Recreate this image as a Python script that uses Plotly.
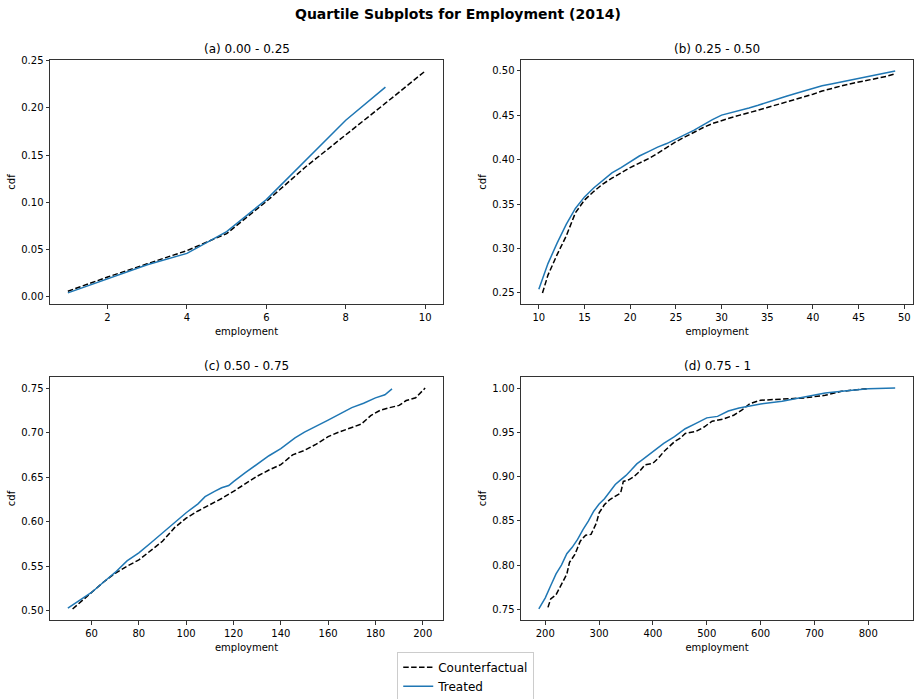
import plotly.graph_objects as go

# ---- data ----
a_treat_x = [1, 2, 3, 4, 5, 6, 7, 8, 9]
a_treat_y = [0.0042, 0.0195, 0.034, 0.046, 0.069, 0.103, 0.145, 0.187, 0.222]
a_cf_x = [1, 2, 3, 4, 5, 6, 7, 8, 9, 10]
a_cf_y = [0.006, 0.021, 0.035, 0.049, 0.067, 0.101, 0.138, 0.171, 0.205, 0.239]

b_treat_x = list(range(10, 50))
b_treat_y = [0.254, 0.283, 0.306, 0.327, 0.345, 0.358, 0.368, 0.377, 0.385, 0.391,
             0.398, 0.404, 0.409, 0.414, 0.418, 0.423, 0.428, 0.433, 0.439, 0.445,
             0.450, 0.4525, 0.455, 0.458, 0.461, 0.4645, 0.468, 0.471, 0.474, 0.477,
             0.480, 0.483, 0.485, 0.487, 0.489, 0.491, 0.493, 0.495, 0.497, 0.4995]
b_cf_x = [10.4] + list(range(11, 50))
b_cf_y = [0.250, 0.270, 0.293, 0.314, 0.340, 0.3545, 0.364, 0.3725, 0.379, 0.385,
          0.391, 0.396, 0.401, 0.407, 0.414, 0.420, 0.4255, 0.431, 0.436, 0.4405,
          0.444, 0.447, 0.450, 0.4525, 0.4555, 0.4585, 0.4615, 0.464, 0.4667, 0.470,
          0.4735, 0.477, 0.480, 0.4825, 0.485, 0.487, 0.489, 0.4915, 0.4935, 0.4965]

c_treat_x = [50, 55, 60, 65, 70, 75, 80, 85, 90, 95, 100, 105, 108, 112, 115, 118,
             120, 125, 130, 135, 140, 143, 146, 150, 155, 160, 165, 170, 175, 180, 184, 187]
c_treat_y = [0.503, 0.512, 0.5205, 0.532, 0.543, 0.556, 0.565, 0.576, 0.5875, 0.599,
             0.610, 0.620, 0.628, 0.634, 0.638, 0.6405, 0.645, 0.655, 0.665, 0.674,
             0.682, 0.688, 0.694, 0.7005, 0.707, 0.714, 0.721, 0.728, 0.733, 0.739,
             0.7425, 0.749]
c_cf_x = [52, 60, 65, 70, 75, 80, 85, 90, 95, 100, 105, 110, 115, 120, 125, 130, 135,
          140, 145, 150, 155, 160, 165, 170, 174, 178, 182, 186, 190, 193, 197, 201]
c_cf_y = [0.502, 0.520, 0.532, 0.542, 0.550, 0.557, 0.567, 0.578, 0.593, 0.604,
          0.612, 0.619, 0.626, 0.634, 0.643, 0.651, 0.658, 0.664, 0.675, 0.680,
          0.687, 0.6955, 0.701, 0.706, 0.7095, 0.719, 0.725, 0.728, 0.7305, 0.736,
          0.739, 0.750]

d_treat_x = [188, 200, 210, 220, 230, 240, 250, 260, 270, 280, 290, 300, 310, 320,
             330, 340, 350, 360, 370, 380, 400, 420, 440, 460, 480, 500, 520, 540,
             560, 580, 600, 640, 680, 720, 760, 800, 850]
d_treat_y = [0.7504, 0.763, 0.7766, 0.790, 0.800, 0.8129, 0.820, 0.829, 0.840, 0.8496,
             0.8608, 0.869, 0.875, 0.883, 0.891, 0.8963, 0.9013, 0.9076, 0.9143, 0.9188,
             0.928, 0.9375, 0.945, 0.954, 0.960, 0.9663, 0.968, 0.974, 0.9775, 0.980,
             0.982, 0.985, 0.990, 0.9944, 0.997, 0.9993, 1.000]
d_cf_x = [205, 210, 220, 230, 240, 245, 255, 265, 275, 285, 295, 300, 310, 320, 330,
          340, 345, 355, 365, 375, 385, 400, 410, 420, 440, 450, 460, 480, 495, 510,
          530, 550, 565, 580, 600, 640, 680, 720, 750, 800]
d_cf_y = [0.7522, 0.7616, 0.7665, 0.778, 0.7897, 0.803, 0.812, 0.827, 0.8338, 0.8346,
          0.8476, 0.859, 0.8683, 0.874, 0.8776, 0.8814, 0.8945, 0.8963, 0.900, 0.9057,
          0.9132, 0.915, 0.9207, 0.928, 0.9394, 0.943, 0.9487, 0.951, 0.956, 0.9626,
          0.9648, 0.9693, 0.975, 0.9824, 0.9862, 0.9873, 0.9888, 0.9918, 0.9963, 0.9993]

panel_titles = ["(a) 0.00 - 0.25", "(b) 0.25 - 0.50", "(c) 0.50 - 0.75", "(d) 0.75 - 1"]
x_ticks = [[2, 4, 6, 8, 10], list(range(10, 55, 5)), list(range(60, 220, 20)),
           list(range(200, 900, 100))]
y_ticks = [[0.0, 0.05, 0.10, 0.15, 0.20, 0.25], [0.25, 0.30, 0.35, 0.40, 0.45, 0.50],
           [0.50, 0.55, 0.60, 0.65, 0.70, 0.75], [0.75, 0.80, 0.85, 0.90, 0.95, 1.00]]

panels = [(a_cf_x, a_cf_y, a_treat_x, a_treat_y), (b_cf_x, b_cf_y, b_treat_x, b_treat_y),
          (c_cf_x, c_cf_y, c_treat_x, c_treat_y), (d_cf_x, d_cf_y, d_treat_x, d_treat_y)]

W, H = 915, 699
# pixel boxes of the four axes (left, right, top, bottom)
boxes = [(50, 443, 60, 304), (521, 913, 60, 304), (50, 443, 377, 620), (521, 913, 377, 620)]

FONT = "DejaVu Sans"
fig = go.Figure()
layout = dict(
    width=W, height=H, margin=dict(l=0, r=0, t=0, b=0, autoexpand=False),
    paper_bgcolor="white", plot_bgcolor="white",
    font=dict(family=FONT, size=10, color="black"),
    showlegend=True,
    legend=dict(x=0.509, y=-0.004, xanchor="center", yanchor="bottom",
                bordercolor="#cccccc", borderwidth=1, bgcolor="white",
                font=dict(size=12, family=FONT), tracegroupgap=0,
                itemwidth=30),
)
annotations = [dict(text="<b>Quartile Subplots for Employment (2014)</b>", x=0.5, y=1 - 14 / H,
                    xref="paper", yref="paper", showarrow=False,
                    font=dict(size=14, family=FONT), xanchor="center", yanchor="middle")]

for i, ((cx, cy, tx, ty), (l, r, t, b)) in enumerate(zip(panels, boxes)):
    n = "" if i == 0 else str(i + 1)
    xa, ya = "x" + n, "y" + n
    allx = cx + tx
    ally = cy + ty
    xmin, xmax = min(allx), max(allx)
    ymin, ymax = min(ally), max(ally)
    xm = (xmax - xmin) * 0.05
    ym = (ymax - ymin) * 0.05
    fig.add_trace(go.Scatter(x=cx, y=cy, mode="lines", name="Counterfactual",
                             line=dict(color="black", width=1.5, dash="5.5px,2.4px"),
                             xaxis=xa, yaxis=ya, showlegend=(i == 0)))
    fig.add_trace(go.Scatter(x=tx, y=ty, mode="lines", name="Treated",
                             line=dict(color="#1f77b4", width=1.5),
                             xaxis=xa, yaxis=ya, showlegend=(i == 0)))
    axis_common = dict(showline=True, mirror=True, linecolor="#333333", linewidth=1,
                       ticks="outside", ticklen=3.5, tickwidth=0.8, tickcolor="#333333",
                       showgrid=False, zeroline=False, automargin=False,
                       tickfont=dict(size=10, family=FONT))
    layout["xaxis" + n] = dict(domain=[l / W, r / W], anchor=ya,
                               range=[xmin - xm, xmax + xm], tickvals=x_ticks[i],
                               title=dict(text="employment", standoff=6,
                                          font=dict(size=10, family=FONT)),
                               **axis_common)
    layout["yaxis" + n] = dict(domain=[1 - b / H, 1 - t / H], anchor=xa,
                               range=[ymin - ym, ymax + ym], tickvals=y_ticks[i],
                               tickformat=".2f",
                               title=dict(text="cdf", standoff=3,
                                          font=dict(size=10, family=FONT)),
                               **axis_common)
    annotations.append(dict(text=panel_titles[i], x=(l + r) / 2 / W,
                            y=1 - (t - 11) / H,
                            xref="paper", yref="paper", showarrow=False,
                            font=dict(size=12, family=FONT), xanchor="center",
                            yanchor="middle"))

layout["annotations"] = annotations
fig.update_layout(**layout)
fig.write_html("out.html")
